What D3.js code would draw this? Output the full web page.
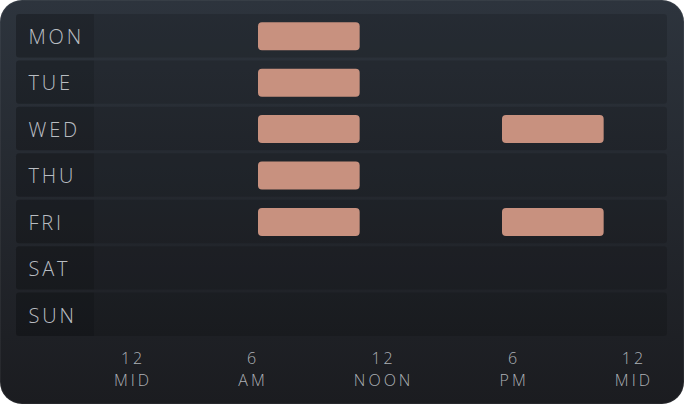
<!DOCTYPE html>
<html>
<head>
<meta charset="utf-8">
<script src="https://cdn.jsdelivr.net/npm/d3@7"></script>
<style>
  html, body { margin: 0; padding: 0; background: #ffffff; }
  svg { display: block; }
</style>
</head>
<body>
<svg id="chart" width="684" height="404"></svg>
<script>
// ---- data ----
const days = ["MON", "TUE", "WED", "THU", "FRI", "SAT", "SUN"];
// busy periods [startHour, endHour] per day
const schedule = [
  [[6, 11]],
  [[6, 11]],
  [[6, 11], [18, 23]],
  [[6, 11]],
  [[6, 11], [18, 23]],
  [],
  []
];
const tickTop = ["12", "6", "12", "6", "12"];
const tickBottom = ["MID", "AM", "NOON", "PM", "MID"];

// ---- layout ----
const W = 684, H = 404;
const svg = d3.select("#chart");
const defs = svg.append("defs");
const grad = defs.append("linearGradient").attr("id", "bg").attr("x1", 0).attr("y1", 0).attr("x2", 0).attr("y2", 1);
grad.append("stop").attr("offset", "0%").attr("stop-color", "#2d343d");
grad.append("stop").attr("offset", "100%").attr("stop-color", "#1b1c20");

svg.append("rect").attr("x", 0).attr("y", 0).attr("width", W).attr("height", H)
  .attr("rx", 22).attr("fill", "url(#bg)");
svg.append("rect").attr("x", 0.5).attr("y", 0.5).attr("width", W - 1).attr("height", H - 1)
  .attr("rx", 22).attr("fill", "none").attr("stroke", "rgba(255,255,255,0.05)");

const rowLeft = 16, rowRight = 667, labelW = 78;
const y = d3.scaleBand().domain(days).range([14, 336]).paddingInner(3 / 46).paddingOuter(0);
const x = d3.scaleLinear().domain([0, 24]).range([136, 624]);

const fontFam = "'Open Sans', 'Noto Sans', sans-serif";

const rows = svg.append("g").selectAll("g").data(days).join("g");
rows.append("rect")
  .attr("x", rowLeft).attr("y", d => y(d))
  .attr("width", rowRight - rowLeft).attr("height", y.bandwidth())
  .attr("rx", 3).attr("fill", "rgba(0,0,0,0.14)");
rows.append("path")
  .attr("d", d => {
    const y0 = y(d), h = y.bandwidth(), r = 3;
    return `M${rowLeft + r},${y0} H${rowLeft + labelW} V${y0 + h} H${rowLeft + r} Q${rowLeft},${y0 + h} ${rowLeft},${y0 + h - r} V${y0 + r} Q${rowLeft},${y0} ${rowLeft + r},${y0} Z`;
  })
  .attr("fill", "rgba(0,0,0,0.12)");
rows.append("text")
  .attr("x", 28.5).attr("y", d => y(d) + 30)
  .attr("font-family", fontFam)
  .attr("font-weight", 300)
  .attr("font-size", 20)
  .attr("letter-spacing", 2.8)
  .attr("fill", "#b9bdc2")
  .text(d => d);

// bars
const barH = 28;
const bars = [];
schedule.forEach((list, i) => list.forEach(([s, e]) => bars.push({ day: days[i], s, e })));
svg.append("g").selectAll("rect").data(bars).join("rect")
  .attr("x", d => x(d.s)).attr("width", d => x(d.e) - x(d.s))
  .attr("y", d => y(d.day) + (y.bandwidth() - barH) / 2 + 0.5)
  .attr("height", barH)
  .attr("rx", 4)
  .attr("fill", "#c8917f");

// axis labels: distributed with equal gaps between label boxes (space-between)
const axisL = 114, axisR = 650;
const ticks = tickTop.map((t, i) => ({ top: t, bottom: tickBottom[i] }));
const tg = svg.append("g").selectAll("g").data(ticks).join("g");
const common = sel => sel
  .attr("text-anchor", "middle")
  .attr("font-family", fontFam)
  .attr("font-weight", 300)
  .attr("font-size", 16)
  .attr("letter-spacing", 3)
  .attr("fill", "#adb1b6");
tg.append("text").call(common).attr("y", 364).text(d => d.top);
tg.append("text").call(common).attr("y", 386).text(d => d.bottom);
const widths = [];
tg.each(function () {
  const ws = [];
  d3.select(this).selectAll("text").each(function () { ws.push(this.getComputedTextLength() - 3); });
  widths.push(d3.max(ws));
});
const gap = ((axisR - axisL) - d3.sum(widths)) / (widths.length - 1);
let cur = axisL;
const centers = widths.map(w => { const c = cur + w / 2; cur += w + gap; return c; });
tg.selectAll("text").attr("x", function () {
  const i = ticks.indexOf(d3.select(this.parentNode).datum());
  return centers[i] + 1.5;
});
</script>
</body>
</html>
